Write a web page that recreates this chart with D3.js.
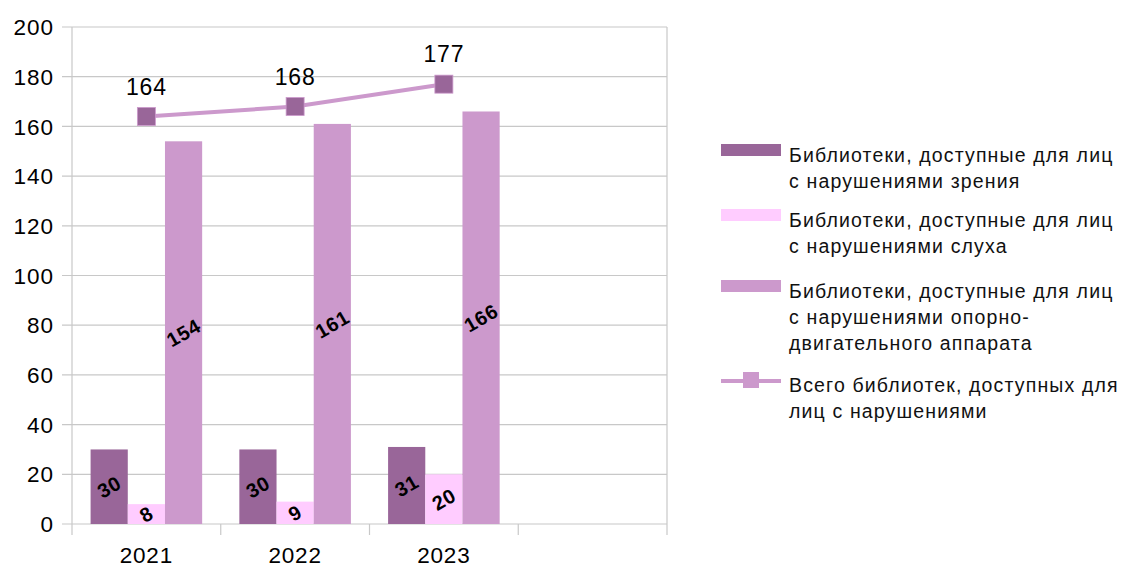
<!DOCTYPE html>
<html>
<head>
<meta charset="utf-8">
<script src="https://cdn.jsdelivr.net/npm/d3@7"></script>
<style>
  body { margin: 0; background: #fff; }
  svg { font-family: "Liberation Sans", Arial, sans-serif; }
</style>
</head>
<body>
<script>
var years = ['2021', '2022', '2023', ''];
var vision = [30, 30, 31];
var hearing = [8, 9, 20];
var motor = [154, 161, 166];
var total = [164, 168, 177];
var yTicks = [0, 20, 40, 60, 80, 100, 120, 140, 160, 180, 200];

var legendLabels = [
  ['Библиотеки, доступные для лиц', 'с нарушениями зрения'],
  ['Библиотеки, доступные для лиц', 'с нарушениями слуха'],
  ['Библиотеки, доступные для лиц', 'с нарушениями опорно-', 'двигательного аппарата'],
  ['Всего библиотек, доступных для', 'лиц с нарушениями']
];
var colors = ['#996699', '#ffccff', '#cc99cc'];

var width = 1125, height = 568;
var plotLeft = 72, plotRight = 667, plotTop = 27, plotBottom = 524;

var svg = d3.select('body').append('svg')
  .attr('width', width)
  .attr('height', height);

var x = d3.scaleBand().domain(years).range([plotLeft, plotRight]);
var y = d3.scaleLinear().domain([0, 200]).range([plotBottom, plotTop]);
var inner = d3.scaleBand().domain([0, 1, 2])
  .range([0, x.bandwidth()]).paddingOuter(0.5);

// gridlines
svg.append('g').selectAll('line')
  .data(yTicks)
  .enter().append('line')
  .attr('x1', plotLeft - 10).attr('x2', plotRight)
  .attr('y1', d => y(d)).attr('y2', d => y(d))
  .attr('stroke', '#c8c8c8').attr('stroke-width', 1.2);

svg.append('line')
  .attr('x1', plotRight).attr('x2', plotRight).attr('y1', plotTop).attr('y2', plotBottom)
  .attr('stroke', '#c8c8c8').attr('stroke-width', 1.2);

// x ticks at slot boundaries
var bounds = years.map(d => x(d)).concat([plotRight]);
svg.append('g').selectAll('line')
  .data(bounds)
  .enter().append('line')
  .attr('x1', d => d).attr('x2', d => d)
  .attr('y1', plotBottom).attr('y2', plotBottom + 11)
  .attr('stroke', '#c8c8c8').attr('stroke-width', 1.2);

svg.append('line')
  .attr('x1', plotLeft).attr('x2', plotLeft).attr('y1', plotTop).attr('y2', plotBottom)
  .attr('stroke', '#c8c8c8').attr('stroke-width', 1.2);

// y labels
svg.append('g').selectAll('text')
  .data(yTicks)
  .enter().append('text')
  .attr('x', 54).attr('y', d => y(d))
  .attr('dy', '0.36em')
  .attr('text-anchor', 'end')
  .attr('font-size', 22.5)
  .attr('letter-spacing', 1)
  .text(d => d);

// x labels
svg.append('g').selectAll('text')
  .data(years)
  .enter().append('text')
  .attr('x', d => x(d) + x.bandwidth() / 2)
  .attr('y', 555)
  .attr('dy', '0.36em')
  .attr('text-anchor', 'middle')
  .attr('font-size', 22.5)
  .attr('letter-spacing', 0.8)
  .text(d => d);

// bars
var series = [vision, hearing, motor];
series.forEach(function(vals, s) {
  var g = svg.append('g');
  g.selectAll('rect')
    .data(vals)
    .enter().append('rect')
    .attr('x', (d, i) => x(years[i]) + inner(s))
    .attr('width', inner.bandwidth())
    .attr('y', d => y(d))
    .attr('height', d => plotBottom - y(d))
    .attr('fill', colors[s]);
  g.selectAll('text')
    .data(vals)
    .enter().append('text')
    .attr('transform', (d, i) => {
      var cx = x(years[i]) + inner(s) + inner.bandwidth() / 2;
      var cy = (y(d) + plotBottom) / 2;
      return `translate(${cx},${cy}) rotate(-30)`;
    })
    .attr('dy', '0.36em')
    .attr('text-anchor', 'middle')
    .attr('font-size', 20)
    .attr('font-weight', 'bold')
    .attr('letter-spacing', 0.8)
    .text(d => d);
});

// total line
var line = d3.line()
  .x((d, i) => x(years[i]) + x.bandwidth() / 2)
  .y(d => y(d));

svg.append('path')
  .datum(total)
  .attr('d', line)
  .attr('fill', 'none')
  .attr('stroke', '#cc99cc')
  .attr('stroke-width', 4);

svg.append('g').selectAll('rect')
  .data(total)
  .enter().append('rect')
  .attr('x', (d, i) => x(years[i]) + x.bandwidth() / 2 - 9)
  .attr('y', d => y(d) - 9)
  .attr('width', 18).attr('height', 18)
  .attr('fill', '#996699')
  .attr('stroke', '#cc99cc').attr('stroke-width', 0.8);

svg.append('g').selectAll('text')
  .data(total)
  .enter().append('text')
  .attr('x', (d, i) => x(years[i]) + x.bandwidth() / 2)
  .attr('y', d => y(d) - 30)
  .attr('dy', '0.36em')
  .attr('text-anchor', 'middle')
  .attr('font-size', 23)
  .attr('letter-spacing', 0.8)
  .text(d => d);

// legend
var legendTop = [155, 220, 291, 385];
var leg = svg.append('g');
legendLabels.forEach(function(lines, i) {
  var ly = legendTop[i];
  if (i < 3) {
    leg.append('rect')
      .attr('x', 721).attr('y', ly - 11)
      .attr('width', 60).attr('height', 12)
      .attr('fill', colors[i]);
  } else {
    leg.append('line')
      .attr('x1', 721).attr('x2', 781)
      .attr('y1', ly - 4).attr('y2', ly - 4)
      .attr('stroke', '#cc99cc').attr('stroke-width', 4);
    leg.append('rect')
      .attr('x', 743).attr('y', ly - 13)
      .attr('width', 16).attr('height', 16)
      .attr('fill', '#cc99cc');
  }
  lines.forEach(function(t, j) {
    leg.append('text')
      .attr('x', 789)
      .attr('y', ly + j * 26)
      .attr('dy', '0.36em')
      .attr('font-size', 19.5)
      .attr('letter-spacing', 1.15)
      .attr('fill', '#111')
      .text(t);
  });
});
</script>
</body>
</html>
